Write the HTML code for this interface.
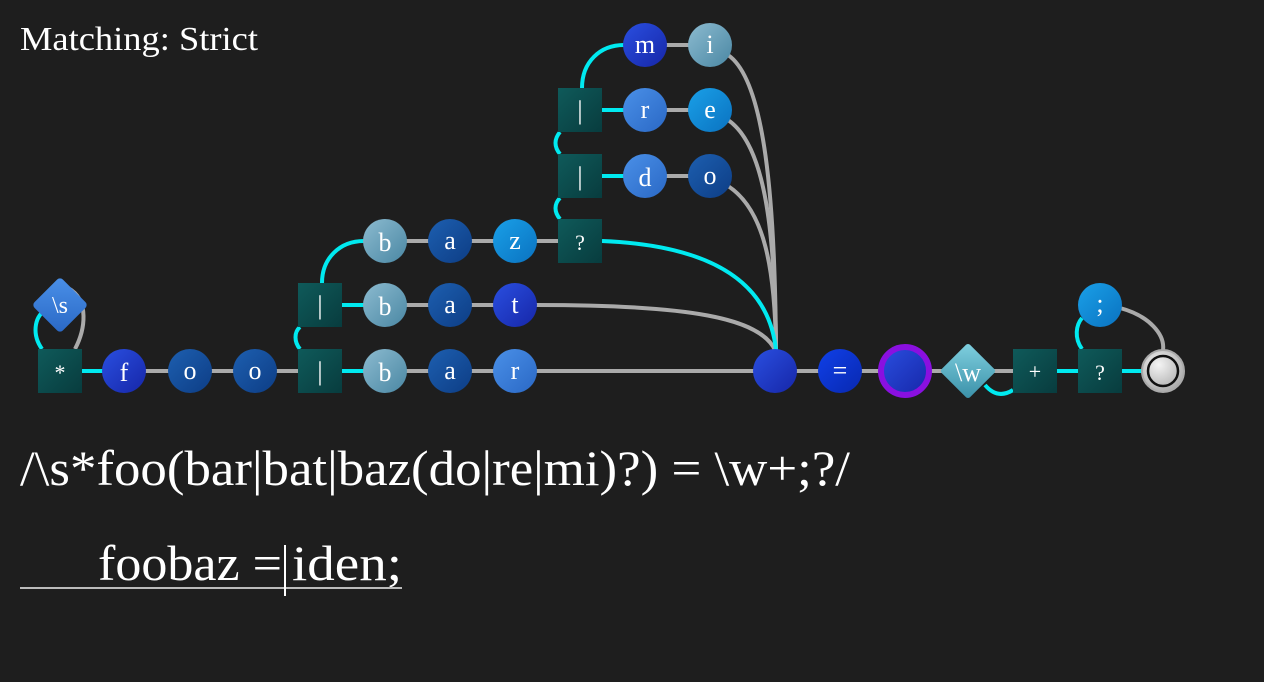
<!DOCTYPE html>
<html><head><meta charset="utf-8"><style>
html,body{margin:0;padding:0;background:#1e1e1e;width:1264px;height:682px;overflow:hidden}
svg{display:block}
text{font-family:"Liberation Serif",serif;fill:#fff}
</style></head><body>
<svg width="1264" height="682" viewBox="0 0 1264 682">
<defs>
<linearGradient id="sq" x1="0" y1="0" x2="1" y2="1"><stop offset="0" stop-color="#0f5a5a"/><stop offset="1" stop-color="#083c3e"/></linearGradient>
<linearGradient id="c1" x1="0" y1="0" x2="1" y2="1"><stop offset="0" stop-color="#2a4fe0"/><stop offset="1" stop-color="#1626a8"/></linearGradient>
<linearGradient id="c2" x1="0" y1="0" x2="1" y2="1"><stop offset="0" stop-color="#1d5fb0"/><stop offset="1" stop-color="#0d3d85"/></linearGradient>
<linearGradient id="c3" x1="0" y1="0" x2="1" y2="1"><stop offset="0" stop-color="#8cbbd0"/><stop offset="1" stop-color="#4a87a3"/></linearGradient>
<linearGradient id="c4" x1="0" y1="0" x2="1" y2="1"><stop offset="0" stop-color="#4a90e8"/><stop offset="1" stop-color="#2a68c5"/></linearGradient>
<linearGradient id="c5" x1="0" y1="0" x2="1" y2="1"><stop offset="0" stop-color="#1aa0e8"/><stop offset="1" stop-color="#0a72c0"/></linearGradient>
<linearGradient id="c6" x1="0" y1="0" x2="1" y2="1"><stop offset="0" stop-color="#1040e8"/><stop offset="1" stop-color="#0828b0"/></linearGradient>
<linearGradient id="dw" x1="0" y1="0" x2="1" y2="1"><stop offset="0" stop-color="#80d0e0"/><stop offset="1" stop-color="#3a90a8"/></linearGradient>
<radialGradient id="end" cx="0.4" cy="0.35" r="0.7"><stop offset="0" stop-color="#f4f4f4"/><stop offset="1" stop-color="#a8a8a8"/></radialGradient>
</defs>
<text x="20" y="50" font-size="34" textLength="238" lengthAdjust="spacingAndGlyphs">Matching: Strict</text>
<g fill="none" stroke-width="4">
<g stroke="#aaaaaa">
<line x1="82" y1="371" x2="1145" y2="371"/>
<line x1="385" y1="305" x2="537" y2="305"/>
<line x1="385" y1="241" x2="580" y2="241"/>
<line x1="645" y1="176" x2="710" y2="176"/>
<line x1="645" y1="110" x2="710" y2="110"/>
<line x1="645" y1="45" x2="710" y2="45"/>
<path d="M537,305 C690,305 760,318 775,350"/>
<path d="M728,55 C765,80 775,200 776,350"/>
<path d="M728,120 C765,145 775,230 776,350"/>
<path d="M728,186 C765,210 775,270 776,350"/>
<path d="M68,288 C90,300 85,330 75,349"/>
<path d="M1120,308 C1150,316 1165,335 1163,350"/>
</g>
<g stroke="#00eaf0">
<line x1="82" y1="371" x2="103" y2="371"/>
<line x1="342" y1="371" x2="364" y2="371"/>
<line x1="342" y1="305" x2="364" y2="305"/>
<line x1="602" y1="176" x2="624" y2="176"/>
<line x1="602" y1="110" x2="624" y2="110"/>
<line x1="1057" y1="371" x2="1078" y2="371"/>
<line x1="1122" y1="371" x2="1143" y2="371"/>
<path d="M300,349 C294,342 294,332 300,327"/>
<path d="M322,283 C322,258 340,241 364,241"/>
<path d="M560,154 C554,147 554,139 560,132"/>
<path d="M560,219 C554,212 554,204 560,198"/>
<path d="M582,88 C582,62 600,45 624,45"/>
<path d="M602,241 C700,245 768,275 776,350"/>
<path d="M42,349 C32,335 34,318 45,310"/>
<path d="M985,385 C995,397 1005,395 1013,390"/>
<path d="M1082,349 C1074,338 1076,325 1082,318"/>
</g>
</g>
<g fill="url(#sq)">
<rect x="38" y="349" width="44" height="44"/>
<rect x="298" y="349" width="44" height="44"/>
<rect x="298" y="283" width="44" height="44"/>
<rect x="558" y="219" width="44" height="44"/>
<rect x="558" y="154" width="44" height="44"/>
<rect x="558" y="88" width="44" height="44"/>
<rect x="1013" y="349" width="44" height="44"/>
<rect x="1078" y="349" width="44" height="44"/>
</g>
<rect x="40" y="285" width="40" height="40" rx="4" fill="url(#c4)" transform="rotate(45 60 305)"/>
<rect x="948" y="351" width="40" height="40" rx="3" fill="url(#dw)" transform="rotate(45 968 371)"/>
<circle cx="124" cy="371" r="22" fill="url(#c1)"/>
<circle cx="190" cy="371" r="22" fill="url(#c2)"/>
<circle cx="255" cy="371" r="22" fill="url(#c2)"/>
<circle cx="385" cy="371" r="22" fill="url(#c3)"/>
<circle cx="450" cy="371" r="22" fill="url(#c2)"/>
<circle cx="515" cy="371" r="22" fill="url(#c4)"/>
<circle cx="385" cy="305" r="22" fill="url(#c3)"/>
<circle cx="450" cy="305" r="22" fill="url(#c2)"/>
<circle cx="515" cy="305" r="22" fill="url(#c1)"/>
<circle cx="385" cy="241" r="22" fill="url(#c3)"/>
<circle cx="450" cy="241" r="22" fill="url(#c2)"/>
<circle cx="515" cy="241" r="22" fill="url(#c5)"/>
<circle cx="645" cy="176" r="22" fill="url(#c4)"/>
<circle cx="710" cy="176" r="22" fill="url(#c2)"/>
<circle cx="645" cy="110" r="22" fill="url(#c4)"/>
<circle cx="710" cy="110" r="22" fill="url(#c5)"/>
<circle cx="645" cy="45" r="22" fill="url(#c1)"/>
<circle cx="710" cy="45" r="22" fill="url(#c3)"/>
<circle cx="775" cy="371" r="22" fill="url(#c1)"/>
<circle cx="840" cy="371" r="22" fill="url(#c6)"/>
<circle cx="905" cy="371" r="24" fill="url(#c1)" stroke="#8a10e0" stroke-width="6"/>
<circle cx="1100" cy="305" r="22" fill="url(#c5)"/>
<circle cx="1163" cy="371" r="21" fill="url(#end)" stroke="#aaa" stroke-width="2"/>
<circle cx="1163" cy="371" r="15" fill="none" stroke="#111" stroke-width="2.5"/>
<g font-size="26" text-anchor="middle">
<text x="60" y="380" font-size="22">*</text>
<text x="60" y="313" font-size="24">\s</text>
<text x="124" y="381">f</text>
<text x="190" y="379">o</text>
<text x="255" y="379">o</text>
<text x="320" y="380">|</text>
<text x="320" y="314">|</text>
<text x="385" y="381">b</text>
<text x="450" y="379">a</text>
<text x="515" y="379">r</text>
<text x="385" y="315">b</text>
<text x="450" y="313">a</text>
<text x="515" y="313">t</text>
<text x="385" y="251">b</text>
<text x="450" y="249">a</text>
<text x="515" y="249">z</text>
<text x="580" y="250" font-size="22">?</text>
<text x="580" y="185">|</text>
<text x="580" y="119">|</text>
<text x="645" y="186">d</text>
<text x="710" y="184">o</text>
<text x="645" y="118">r</text>
<text x="710" y="118">e</text>
<text x="645" y="53">m</text>
<text x="710" y="53">i</text>
<text x="840" y="379">=</text>
<text x="968" y="381">\w</text>
<text x="1035" y="379" font-size="22">+</text>
<text x="1100" y="380" font-size="22">?</text>
<text x="1100" y="312">;</text>
</g>
<text x="20" y="485" font-size="50" textLength="830" lengthAdjust="spacingAndGlyphs">/\s*foo(bar|bat|baz(do|re|mi)?) = \w+;?/</text>
<text x="98" y="580" font-size="50" textLength="184" lengthAdjust="spacingAndGlyphs">foobaz =</text>
<text x="292" y="580" font-size="50" textLength="110" lengthAdjust="spacingAndGlyphs">iden;</text>
<line x1="20" y1="588" x2="402" y2="588" stroke="#bbb" stroke-width="2"/>
<line x1="285" y1="545" x2="285" y2="596" stroke="#fff" stroke-width="2"/>
</svg>
</body></html>
